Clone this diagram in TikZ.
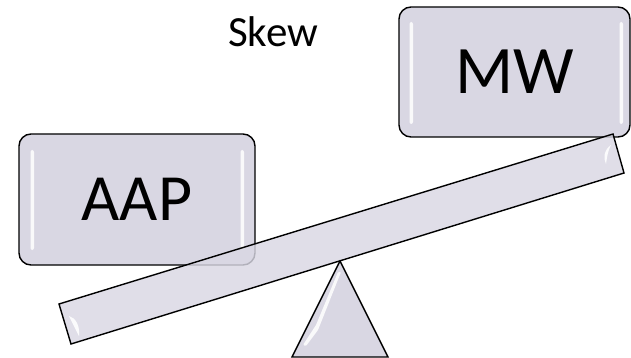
\documentclass[tikz,border=0pt]{standalone}
\usepackage{fontspec}
\setmainfont{Carlito}
\definecolor{plate}{HTML}{D9D7E3}
\begin{document}
\begin{tikzpicture}[x=1pt,y=-1pt,
  plate box/.style={draw=black,line width=1.4pt,fill=plate,rounded corners=12pt,
    minimum width=#1,inner sep=0pt},
  shine/.style={fill=white,fill opacity=0.85,draw=none,rounded corners=2pt},
  outline/.style={draw=black,line width=1.4pt,line join=miter}]
\useasboundingbox (0,0) rectangle (631,358);
% title
\node (skew) at (273,31.5) {\fontsize{43}{43}\selectfont Skew};
% boxes
\node[plate box=236pt,minimum height=131pt] (aap) at (137,199.5)
  {\fontsize{66}{66}\selectfont AAP};
\node[plate box=231pt,minimum height=130pt] (mw) at (514.5,72)
  {\fontsize{68}{68}\selectfont MW};
% highlights on boxes
\fill[shine] (30.5,150) rectangle (34,250);
\fill[shine] (240.5,150) rectangle (244,250);
\fill[shine] (409.5,22) rectangle (413,124);
\fill[shine] (619.5,22) rectangle (623,124);
% fulcrum
\path[outline,fill=plate] (340,261) -- (388,357) -- (292,357) -- cycle;
\fill[shine,rounded corners=1pt] (338,272) -- (341,272) -- (318,330) -- (306,346) -- (303,345) -- (316,325) -- cycle;
% beam
\coordinate (b1) at (59,304);
\coordinate (b2) at (71,344);
\coordinate (b3) at (624,173);
\coordinate (b4) at (613,134);
\path[outline,fill=plate,fill opacity=0.82] (b1) -- (b2) -- (b3) -- (b4) -- cycle;
% beam end highlights
\fill[white,opacity=0.9] (69,316) .. controls (76,318) and (80,326) .. (79,336)
  .. controls (76,330) and (73,324) .. (69,316) -- cycle;
\fill[white,opacity=0.9] (611,145) .. controls (604,150) and (603,158) .. (606,164)
  .. controls (607,157) and (608,150) .. (611,145) -- cycle;
\end{tikzpicture}
\end{document}
